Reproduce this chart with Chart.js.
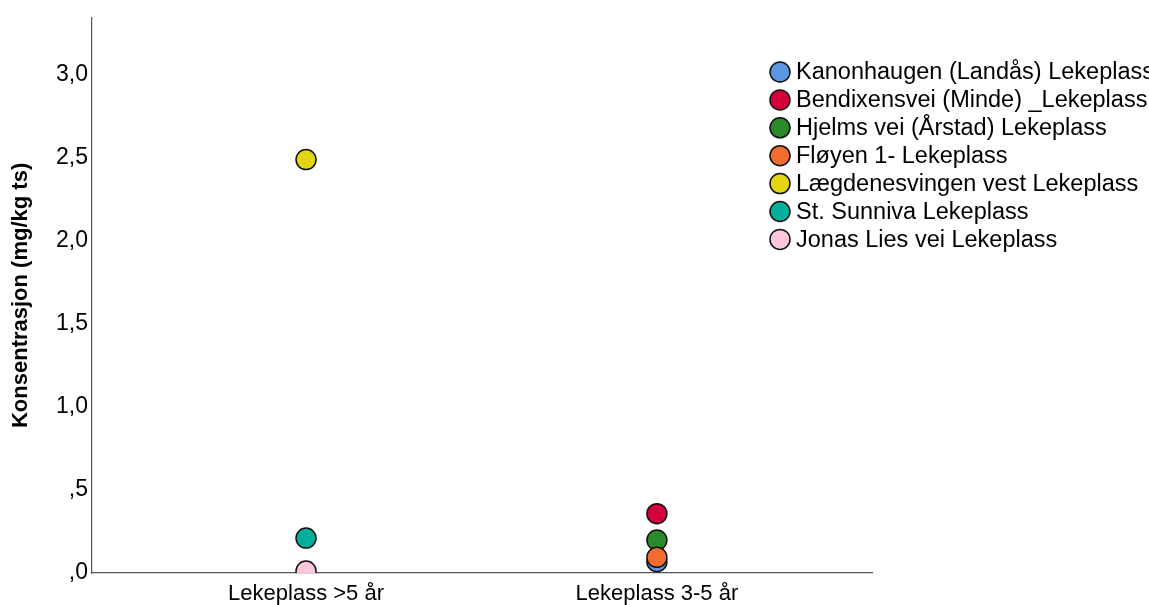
<!DOCTYPE html>
<html>
<head>
<meta charset="utf-8">
<script src="https://cdn.jsdelivr.net/npm/chart.js@4/dist/chart.umd.min.js"></script>
<style>
  html, body { margin: 0; padding: 0; background: #ffffff; }
  #wrap { width: 1149px; height: 605px; position: relative; }
</style>
</head>
<body>
<div id="wrap"><canvas id="c" width="1149" height="605"></canvas></div>
<script>
const categories = ['Lekeplass >5 år', 'Lekeplass 3-5 år'];
const seriesNames = [
  'Kanonhaugen (Landås) Lekeplass',
  'Bendixensvei (Minde) _Lekeplass',
  'Hjelms vei (Årstad) Lekeplass',
  'Fløyen 1- Lekeplass',
  'Lægdenesvingen vest Lekeplass',
  'St. Sunniva Lekeplass',
  'Jonas Lies vei Lekeplass'
];
const seriesCategory = [1, 1, 1, 1, 0, 0, 0];
const seriesValues = [0.068, 0.357, 0.198, 0.094, 2.487, 0.21, 0.012];
const seriesColors = ['#5a96e3', '#d4003a', '#2a8a2a', '#f26b30', '#e3d514', '#00b09c', '#fdc6de'];
const yTicks = [0, 0.5, 1.0, 1.5, 2.0, 2.5, 3.0];

const FONT = "'Liberation Sans', Arial, sans-serif";

const datasets = seriesNames.map((name, i) => ({
  label: name,
  data: [{ x: seriesCategory[i], y: seriesValues[i] }],
  backgroundColor: seriesColors[i],
  borderColor: '#111111',
  borderWidth: 1.5,
  pointRadius: 10,
  pointHoverRadius: 10,
  order: -i
}));

const legendPlugin = {
  id: 'customLegend',
  afterDraw(chart) {
    const ctx = chart.ctx;
    ctx.save();
    const x0 = 780, y0 = 72, step = 27.9;
    chart.data.datasets.forEach((ds, i) => {
      const y = y0 + i * step;
      ctx.beginPath();
      ctx.arc(x0, y, 10, 0, Math.PI * 2);
      ctx.fillStyle = ds.backgroundColor;
      ctx.fill();
      ctx.lineWidth = 1.5;
      ctx.strokeStyle = '#111111';
      ctx.stroke();
      ctx.fillStyle = '#000000';
      ctx.font = '23.5px ' + FONT;
      ctx.textBaseline = 'middle';
      ctx.textAlign = 'left';
      ctx.fillText(ds.label, x0 + 16, y + 1);
    });
    ctx.restore();
  }
};

function fmtY(v) {
  let s = v.toFixed(1).replace('.', ',');
  if (s.startsWith('0')) s = s.substring(1);
  return s;
}

new Chart(document.getElementById('c'), {
  type: 'scatter',
  data: { datasets },
  options: {
    responsive: false,
    animation: false,
    events: [],
    layout: { padding: { left: 0, top: 15, right: 277, bottom: 0 } },
    plugins: { legend: { display: false }, tooltip: { enabled: false } },
    scales: {
      x: {
        type: 'linear',
        min: -0.61,
        max: 1.613,
        afterBuildTicks(axis) { axis.ticks = [{ value: 0 }, { value: 1 }]; },
        afterFit(axis) { axis.height = 32; },
        grid: { display: false, drawTicks: false },
        border: { display: true, color: '#555555', width: 1.2 },
        ticks: {
          padding: 8,
          color: '#000000',
          font: { family: FONT, size: 22 },
          maxRotation: 0,
          autoSkip: false,
          callback: (v) => categories[v] ?? ''
        }
      },
      y: {
        type: 'linear',
        min: 0,
        max: 3.34,
        afterBuildTicks(axis) { axis.ticks = yTicks.map(v => ({ value: v })); },
        afterFit(axis) { axis.width = 92; },
        grid: { display: false, drawTicks: false },
        border: { display: true, color: '#555555', width: 1.2 },
        ticks: {
          padding: 4,
          color: '#000000',
          font: { family: FONT, size: 23 },
          callback: (v) => fmtY(v)
        },
        title: {
          display: true,
          text: 'Konsentrasjon (mg/kg ts)',
          color: '#000000',
          font: { family: FONT, size: 22, weight: 'bold' },
          padding: { top: 8, bottom: 2 }
        }
      }
    }
  },
  plugins: [legendPlugin]
});
</script>
</body>
</html>
